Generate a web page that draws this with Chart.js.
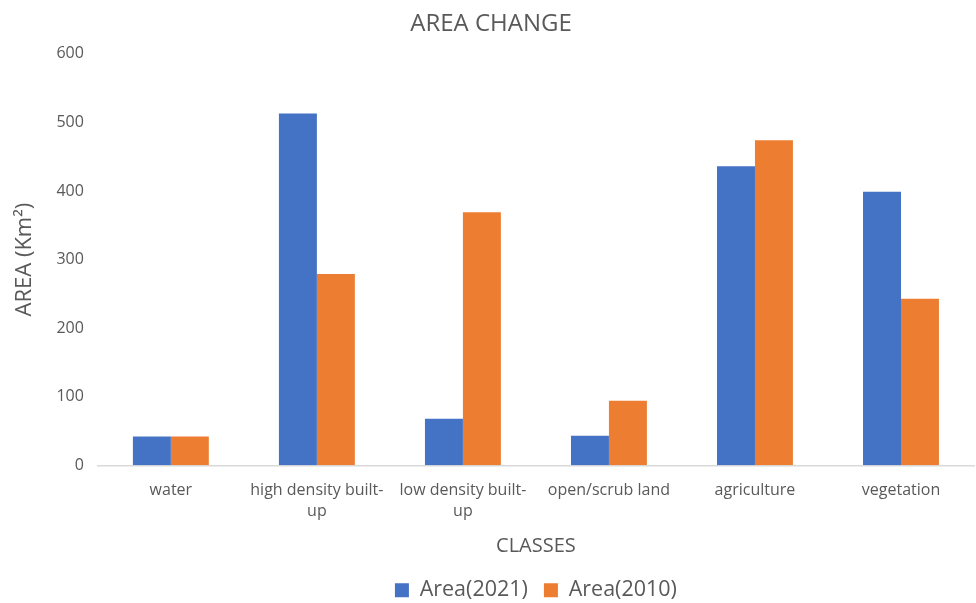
<!DOCTYPE html>
<html><head><meta charset="utf-8">
<script src="https://cdn.jsdelivr.net/npm/chart.js@4/dist/chart.umd.min.js"></script>
<style>html,body{margin:0;padding:0;background:#fff;overflow:hidden}#wrap{width:976px;height:611px;position:relative}</style>
</head><body><div id="wrap"><canvas id="c"></canvas></div>
<script>
const categories = [["water"], ["high density built-","up"], ["low density built-","up"], ["open/scrub land"], ["agriculture"], ["vegetation"]];
const area2021 = [42, 513, 68, 43, 436, 399];
const area2010 = [42, 279, 369, 94, 474, 243];
const yTicks = [0, 100, 200, 300, 400, 500, 600];
const FONT = "'Open Sans', 'Liberation Sans', sans-serif";
const GREY = '#595959';
new Chart(document.getElementById('c'), {
  type: 'bar',
  data: {
    labels: categories,
    datasets: [
      { label: 'Area(2021)', data: area2021, backgroundColor: '#4472C4', categoryPercentage: 0.52, barPercentage: 1.0 },
      { label: 'Area(2010)', data: area2010, backgroundColor: '#ED7D31', categoryPercentage: 0.52, barPercentage: 1.0 }
    ]
  },
  options: {
    responsive: true, maintainAspectRatio: false, animation: false,
    layout: { padding: { left: 8, right: 2, top: 10, bottom: 0 } },
    plugins: {
      title: { display: true, text: 'AREA CHANGE', color: GREY, font: { family: FONT, size: 24, weight: 'normal' }, padding: { top: 0, bottom: 15 } },
      legend: { position: 'bottom', fullSize: false, labels: { color: GREY, font: { family: FONT, size: 21.5 }, boxWidth: 14, boxHeight: 14, padding: 16 } },
      tooltip: { enabled: false }
    },
    scales: {
      x: {
        grid: { display: false, drawTicks: false },
        border: { color: '#D9D9D9', width: 1.5 },
        ticks: { color: GREY, font: { family: FONT, size: 16, lineHeight: 1.35 }, maxRotation: 0, autoSkip: false, padding: 14 },
        title: { display: true, text: 'CLASSES', color: GREY, font: { family: FONT, size: 20, lineHeight: 1.0 }, padding: { top: 0, bottom: 7 } }
      },
      y: {
        min: 0, max: 600,
        afterBuildTicks: (s) => { s.ticks = yTicks.map(v => ({ value: v })); },
        grid: { display: false, drawTicks: false },
        border: { display: false },
        ticks: { color: GREY, font: { family: FONT, size: 16 }, padding: 14 },
        title: { display: true, text: 'AREA (Km²)', color: GREY, font: { family: FONT, size: 22 }, padding: { bottom: 4 } }
      }
    }
  }
});
</script></body></html>
